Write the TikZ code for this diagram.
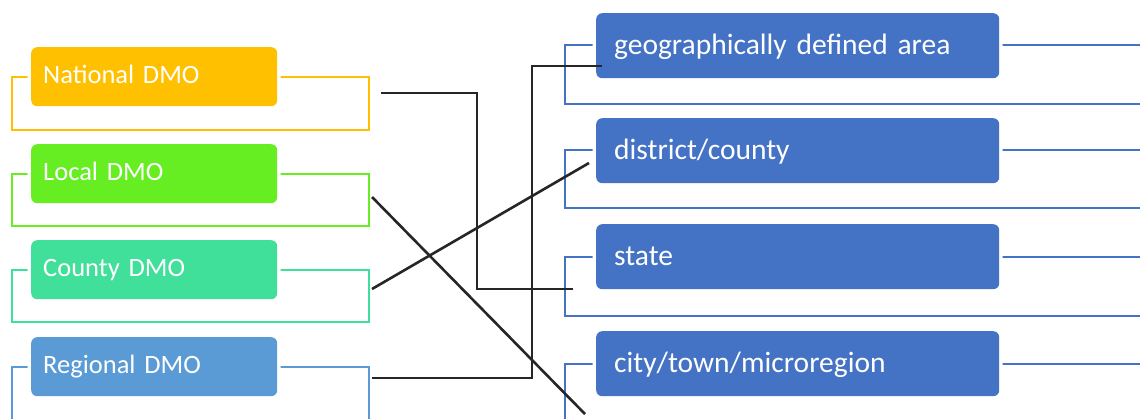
\documentclass[tikz,border=0pt]{standalone}
\usepackage{fontspec}
\setmainfont{Carlito}
\definecolor{natc}{HTML}{FFC000}
\definecolor{locc}{HTML}{66EE22}
\definecolor{couc}{HTML}{40E09A}
\definecolor{regc}{HTML}{5B9BD5}
\definecolor{areac}{HTML}{4472C4}
\begin{document}
\begin{tikzpicture}[x=1pt,y=-1pt,
  leftbox/.style={rounded corners=6pt, fill=#1,
    preaction={draw=white, line width=7pt},
    minimum width=246pt, minimum height=59pt,
    text width=222pt, inner xsep=12pt, align=left, text=white,
    text height=13pt, text depth=0pt,
    font=\fontsize{26.5}{30}\selectfont, anchor=north west},
  rightbox/.style={rounded corners=6pt, fill=areac,
    preaction={draw=white, line width=7pt},
    minimum width=403pt, minimum height=65pt,
    text width=367pt, inner xsep=18pt, align=left, text=white,
    text height=18pt, text depth=0pt,
    font=\fontsize{29.5}{33}\selectfont, anchor=north west},
  bracket/.style={draw=#1, line width=2pt},
  link/.style={draw=black!85, line width=2.6pt}]
\useasboundingbox (0,0) rectangle (1140,418);
\clip (0,0) rectangle (1140,418);

% brackets behind the level boxes
\draw[bracket=natc] (12,77) rectangle (369,130);
\draw[bracket=locc] (12,174) rectangle (369,226);
\draw[bracket=couc] (12,270) rectangle (369,322);
\draw[bracket=regc] (12,367) rectangle (369,420);

\draw[bracket=areac] (565,45) rectangle (1160,104);
\draw[bracket=areac] (565,150) rectangle (1160,208);
\draw[bracket=areac] (565,257) rectangle (1160,316);
\draw[bracket=areac] (565,364) rectangle (1160,430);

% DMO levels
\node[leftbox=natc] (nat) at (31,47) {National DMO};
\node[leftbox=locc] (loc) at (31,144) {Local DMO};
\node[leftbox=couc] (cou) at (31,240) {County DMO};
\node[leftbox=regc] (reg) at (31,337) {Regional DMO};

% territorial units
\node[rightbox] (geo) at (596,13) {geographically defined area};
\node[rightbox] (dist) at (596,118) {district/county};
\node[rightbox] (state) at (596,224) {state};
\node[rightbox] (city) at (596,331) {city/town/microregion};

% connector ends
\coordinate (natout) at (381,93);
\coordinate (locout) at (372,197);
\coordinate (couout) at (372,289);
\coordinate (regout) at (372,378);
\coordinate (geoin) at (602,66);
\coordinate (distin) at (589,163);
\coordinate (statein) at (573,289);
\coordinate (cityin) at (585,414);

% matching lines
\draw[link] (natout) -- ++(96,0) |- (statein);
\draw[link] (locout) -- (cityin);
\draw[link] (couout) -- (distin);
\draw[link] (regout) -- ++(160,0) |- (geoin);
\end{tikzpicture}
\end{document}
